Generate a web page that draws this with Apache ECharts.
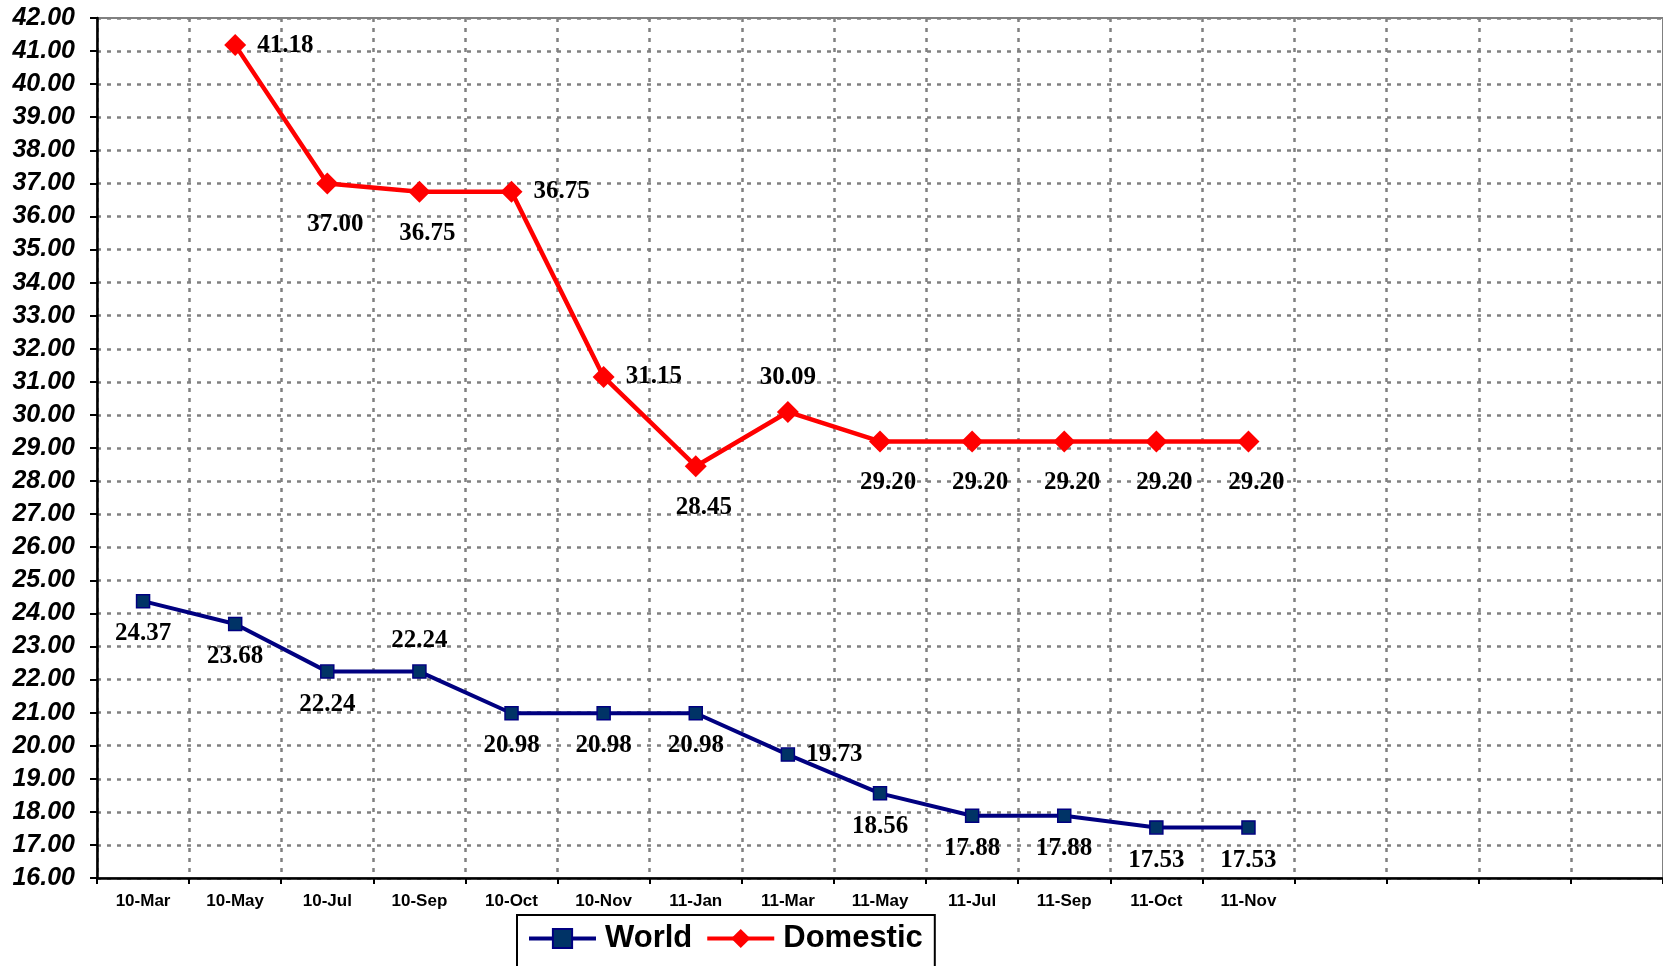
<!DOCTYPE html>
<html>
<head>
<meta charset="utf-8">
<script src="https://cdn.jsdelivr.net/npm/echarts@6/dist/echarts.min.js"></script>
<style>
    html, body { margin: 0; padding: 0; background: #fff; }
    #chart { width: 1663px; height: 966px; }
</style>
</head>
<body>
<div id="chart"></div>
<script>
// categories (the last four slots are empty in the original)
var months = ['10-Mar', '10-May', '10-Jul', '10-Sep', '10-Oct', '10-Nov', '11-Jan',
    '11-Mar', '11-May', '11-Jul', '11-Sep', '11-Oct', '11-Nov', '', '', '', ''];

var world = [24.37, 23.68, 22.24, 22.24, 20.98, 20.98, 20.98, 19.73, 18.56, 17.88, 17.88, 17.53, 17.53];
var domestic = [null, 41.18, 37.00, 36.75, 36.75, 31.15, 28.45, 30.09, 29.20, 29.20, 29.20, 29.20, 29.20];

// where each value label sits
var worldPos = ['bottom', 'bottom', 'bottom', 'top', 'bottom', 'bottom', 'bottom', 'right', 'bottom', 'bottom', 'bottom', 'bottom', 'bottom'];
var domesticPos = ['right', 'right', 'bottom', 'bottom', 'right', 'right', 'bottom', 'top', 'bottom', 'bottom', 'bottom', 'bottom', 'bottom'];

function withLabels(values, pos, below) {
    return values.map(function (v, i) {
        var lab = { position: pos[i] };
        if (pos[i] === 'bottom') {
            lab.distance = below;
            lab.offset = below > 15 ? [8, 0] : [0, 0];
        }
        return { value: v, label: lab };
    });
}

var labelFont = {
    show: true,
    fontFamily: '"Liberation Serif", "Times New Roman", serif',
    fontWeight: 'bold',
    fontSize: 25,
    color: '#000',
    distance: 11,
    formatter: function (p) { return p.value == null ? '' : p.value.toFixed(2); }
};

var gridDash = { color: '#808080', width: 2.5, type: [4, 6] };

var myChart = echarts.init(document.getElementById('chart'));

var option = {
    animation: false,
    grid: {
        left: 97, top: 18, width: 1571, height: 860,
        show: true, borderColor: '#808080', borderWidth: 2
    },
    legend: {
        left: 517, top: 915,
        padding: [8, 12, 20, 10],
        borderColor: '#000', borderWidth: 2,
        itemWidth: 67, itemHeight: 24, itemGap: 13,
        lineStyle: { width: 4 },
        textStyle: {
            fontFamily: '"Liberation Sans", Arial, sans-serif',
            fontWeight: 'bold', fontSize: 31, color: '#000',
            padding: [0, 0, 0, 4]
        },
        data: ['World', 'Domestic']
    },
    xAxis: {
        type: 'category',
        data: months,
        boundaryGap: true,
        axisLine: { lineStyle: { color: '#000', width: 2.5 } },
        axisTick: { show: true, interval: 0, length: 6, lineStyle: { color: '#000', width: 2 } },
        axisLabel: {
            interval: 0, margin: 15,
            fontFamily: '"Liberation Sans", Arial, sans-serif',
            fontWeight: 'bold', fontSize: 17, color: '#000'
        },
        splitLine: { show: true, interval: 0, lineStyle: gridDash }
    },
    yAxis: {
        type: 'value',
        min: 16, max: 42, interval: 1,
        axisLine: { show: true, lineStyle: { color: '#000', width: 2.5 } },
        axisTick: { show: true, length: 7, lineStyle: { color: '#000', width: 2 } },
        axisLabel: {
            margin: 22,
            fontFamily: '"Liberation Sans", Arial, sans-serif',
            fontWeight: 'bold', fontStyle: 'italic', fontSize: 25, color: '#000',
            formatter: function (v) { return v.toFixed(2); }
        },
        splitLine: { show: true, lineStyle: gridDash }
    },
    series: [{
        name: 'World',
        type: 'line',
        data: withLabels(world, worldPos, 13),
        symbol: 'rect',
        symbolSize: 13,
        lineStyle: { color: '#000080', width: 4 },
        itemStyle: { color: '#003366', borderColor: '#000080', borderWidth: 1.5 },
        label: labelFont,
        z: 3
    }, {
        name: 'Domestic',
        type: 'line',
        data: withLabels(domestic, domesticPos, 18),
        symbol: 'diamond',
        symbolSize: 22,
        lineStyle: { color: '#ff0000', width: 4.5 },
        itemStyle: { color: '#ff0000' },
        label: labelFont,
        z: 4
    }]
};

myChart.setOption(option);
</script>
</body>
</html>
